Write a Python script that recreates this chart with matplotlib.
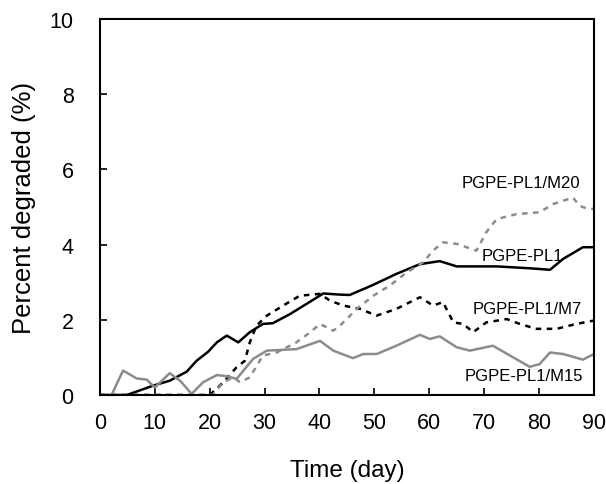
import matplotlib

matplotlib.use("Agg")
import matplotlib.pyplot as plt

plt.rcParams["font.family"] = ["Liberation Sans", "DejaVu Sans"]

# Data (day, percent degraded)
pl1_day = [0, 4.9, 9.7, 12.7, 15.8, 17.6, 19.7, 21.3, 23.1, 25.2, 27.3, 29.7, 31.5,
           34.6, 37.6, 40.7, 43.7, 45.5, 49.8, 54.0, 58.3, 61.9, 65.0, 72.3, 78.3,
           82.0, 84.4, 88.0, 90]
pl1_val = [0, 0, 0.25, 0.38, 0.62, 0.91, 1.15, 1.40, 1.58, 1.40, 1.67, 1.89, 1.91,
           2.15, 2.42, 2.70, 2.67, 2.66, 2.93, 3.22, 3.48, 3.56, 3.42, 3.42, 3.37,
           3.33, 3.62, 3.93, 3.93]

m7_day = [0, 20.0, 22.5, 24.9, 26.4, 27.3, 28.5, 30.4, 33.4, 36.4, 40.1, 41.9, 44.3,
          47.4, 50.4, 54.0, 58.3, 60.7, 62.5, 64.4, 66.2, 68.0, 70.4, 74.1, 76.5,
          79.5, 83.2, 86.8, 90]
m7_val = [0, 0, 0.34, 0.74, 0.91, 1.40, 1.84, 2.11, 2.38, 2.64, 2.69, 2.51, 2.38,
          2.29, 2.11, 2.29, 2.60, 2.38, 2.47, 1.93, 1.89, 1.67, 1.93, 2.02, 1.89,
          1.76, 1.76, 1.89, 1.98]

m20_day = [0, 20.5, 22.5, 24.3, 25.5, 27.3, 29.7, 32.2, 35.8, 38.3, 40.1, 42.5, 43.7,
           46.8, 49.8, 52.8, 55.9, 58.9, 60.7, 62.5, 65.0, 66.8, 68.6, 70.4, 72.3,
           75.9, 80.1, 82.6, 86.2, 87.4, 88.9, 90]
m20_val = [0, 0, 0.34, 0.47, 0.34, 0.47, 1.05, 1.13, 1.40, 1.67, 1.89, 1.71, 1.84,
           2.29, 2.64, 2.91, 3.26, 3.53, 3.84, 4.06, 4.02, 3.93, 3.84, 4.33, 4.68,
           4.81, 4.86, 5.08, 5.25, 5.03, 4.95, 4.95]

m15_day = [0, 2.1, 4.2, 6.7, 8.5, 10.0, 12.7, 14.6, 16.7, 18.8, 21.3, 23.1, 24.9,
           27.9, 30.4, 35.8, 40.1, 42.5, 46.1, 48.0, 50.4, 54.0, 58.3, 60.1, 61.9,
           65.0, 67.4, 71.6, 74.7, 78.3, 80.1, 82.0, 84.4, 88.0, 90]
m15_val = [0, 0, 0.65, 0.44, 0.41, 0.20, 0.58, 0.38, 0.03, 0.34, 0.53, 0.50, 0.43,
           0.96, 1.18, 1.22, 1.44, 1.18, 0.98, 1.09, 1.09, 1.31, 1.60, 1.49, 1.56,
           1.27, 1.18, 1.31, 1.05, 0.75, 0.82, 1.13, 1.09, 0.94, 1.09]

x_ticks = list(range(0, 91, 10))
y_ticks = [0, 2, 4, 6, 8, 10]

GRAY = "#8c8c8c"

fig = plt.figure(figsize=(6.06, 4.85), dpi=100)
ax = fig.add_axes([0.165, 0.1835, 0.815, 0.7753])

ax.plot(pl1_day, pl1_val, color="black", linewidth=1.8)
ax.plot(m7_day, m7_val, color="black", linewidth=1.8, linestyle=(0, (2.2, 2.2)))
ax.plot(m20_day, m20_val, color=GRAY, linewidth=1.8, linestyle=(0, (2.2, 2.2)))
ax.plot(m15_day, m15_val, color=GRAY, linewidth=1.8)

ax.set_xlim(0, 90)
ax.set_ylim(0, 10)
ax.set_xticks(x_ticks)
ax.set_yticks(y_ticks)
ax.tick_params(axis="x", direction="in", length=5, width=1.2, labelsize=15.5, pad=12)
ax.tick_params(axis="y", direction="in", length=5, width=1.2, labelsize=15.5, pad=19)
for spine in ax.spines.values():
    spine.set_linewidth(1.5)

ax.set_xlabel("Time (day)", fontsize=17.5, labelpad=19)
ax.set_ylabel("Percent degraded (%)", fontsize=18.5, labelpad=10)

label_kw = dict(fontsize=12, ha="center", va="center")
ax.text(76.7, 5.66, "PGPE-PL1/M20", **label_kw)
ax.text(76.9, 3.70, "PGPE-PL1", **label_kw)
ax.text(77.8, 2.29, "PGPE-PL1/M7", **label_kw)
ax.text(77.2, 0.51, "PGPE-PL1/M15", **label_kw)

fig.savefig("out.png", dpi=100)
